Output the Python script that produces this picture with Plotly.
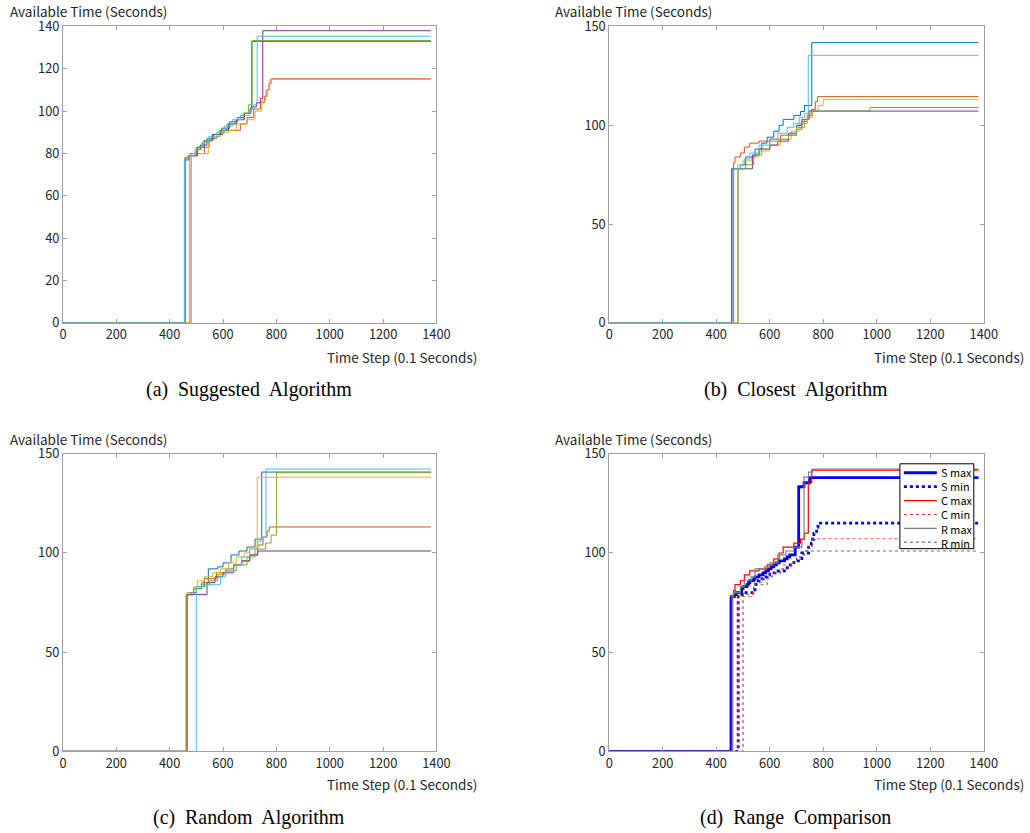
import numpy as np
import plotly.graph_objects as go

# figure canvas (page pixels); the harness maps page -> picture with a small
# scale/offset, compensated below so that targets are given in picture pixels
W, H = 1046, 843
SX, OX = 0.984, 2.0
SY, OY = 0.979, 9.5
END_T = 1380

# ---------------- data: step series (x where step starts, value after step) ----
# (a) Suggested Algorithm
A_BLUE_X = [0, 456, 472, 500, 515, 540, 565, 595, 625, 655, 680, 700, 708]
A_BLUE_Y = [0, 77, 79, 82, 84, 87, 89, 92, 95, 97, 99, 101, 133.0]
A_ORANGE_X = [0, 476, 500, 530, 548, 575, 600, 665, 690, 715, 740, 755, 765, 772, 780]
A_ORANGE_Y = [0, 79, 80, 83, 87, 89, 91, 94, 97, 101, 104, 107, 110, 113, 115.3]
A_YELLOW_X = [0, 482, 545, 560, 590, 620, 650, 690, 720, 745, 760, 775]
A_YELLOW_Y = [0, 80, 86, 88, 90, 91, 94, 96, 100, 105, 110, 115.0]
A_PURPLE_X = [0, 458, 470, 505, 530, 560, 590, 620, 650, 680, 705, 725, 740, 749]
A_PURPLE_Y = [0, 78, 79, 83, 86, 89, 91, 94, 96, 99, 102, 104, 106, 138.0]
A_GREEN_X = [0, 457, 475, 500, 525, 555, 585, 615, 645, 675, 695, 709]
A_GREEN_Y = [0, 78, 80, 83, 86, 88, 91, 94, 96, 99, 103, 133.4]
A_LBLUE_X = [0, 455, 468, 495, 520, 545, 575, 605, 635, 665, 700, 715, 728]
A_LBLUE_Y = [0, 77, 79, 82, 85, 88, 90, 93, 96, 98, 101, 103, 135.4]

# (b) Closest Algorithm
B_BLUE_X = [0, 458, 490, 510, 545, 570, 590, 615, 635, 650, 690, 715, 730, 757]
B_BLUE_Y = [0, 78, 80, 84, 88, 91, 94, 97, 100, 103, 105, 107, 110, 141.8]
B_ORANGE_X = [0, 465, 470, 490, 505, 525, 560, 600, 640, 700, 720, 740, 755, 770, 779]
B_ORANGE_Y = [0, 81, 84, 86, 89, 91, 92, 93, 95, 98, 102, 105, 108, 112, 114.5]
B_YELLOW_X = [0, 480, 500, 530, 560, 600, 640, 680, 710, 740, 760, 780, 800]
B_YELLOW_Y = [0, 80, 82, 84, 87, 90, 93, 97, 101, 104, 107, 110, 113.0]
B_PURPLE_X = [0, 458, 535, 560, 600, 630, 670, 700, 720, 747]
B_PURPLE_Y = [0, 78, 85, 88, 90, 92, 96, 100, 103, 107.2]
B_GREEN_X = [0, 482, 510, 540, 570, 600, 640, 670, 700, 730, 747, 975]
B_GREEN_Y = [0, 78, 80, 85, 88, 92, 93, 95, 99, 103, 107.2, 109.0]
B_LBLUE_X = [0, 462, 490, 505, 525, 560, 600, 630, 665, 690, 710, 730, 744]
B_LBLUE_Y = [0, 78, 80, 83, 86, 90, 93, 96, 99, 101, 104, 106, 135.4]

# (c) Random Algorithm
C_BLUE_X = [0, 462, 480, 500, 530, 545, 580, 600, 630, 660, 690, 720, 745]
C_BLUE_Y = [0, 79, 80, 83, 87, 92, 93, 95, 99, 101, 103, 107, 140.8]
C_ORANGE_X = [0, 463, 490, 520, 545, 575, 610, 640, 670, 700, 730, 750, 765, 773]
C_ORANGE_Y = [0, 79, 82, 85, 87, 90, 92, 94, 96, 99, 104, 108, 111, 113.1]
C_YELLOW_X = [0, 465, 490, 505, 530, 560, 590, 620, 650, 680, 700, 728]
C_YELLOW_Y = [0, 79, 83, 86, 88, 90, 92, 95, 98, 100, 103, 138.2]
C_PURPLE_X = [0, 466, 540, 570, 600, 640, 670, 700, 730]
C_PURPLE_Y = [0, 79, 85, 88, 90, 94, 96, 99, 101.0]
C_GREEN_X = [0, 466, 490, 520, 550, 580, 610, 650, 690, 720, 760, 780, 801]
C_GREEN_Y = [0, 80, 82, 84, 86, 89, 91, 94, 98, 102, 105, 109, 140.5]
C_LBLUE_X = [0, 500, 540, 590, 610, 640, 670, 700, 730, 745, 761]
C_LBLUE_Y = [0, 83, 84, 88, 91, 94, 98, 102, 106, 108, 142.3]

CAPTIONS = ["(a)\u00a0 Suggested\u00a0 Algorithm", "(b)\u00a0 Closest\u00a0 Algorithm",
            "(c)\u00a0 Random\u00a0 Algorithm", "(d)\u00a0 Range\u00a0 Comparison"]
Y_TITLE = "Available Time (Seconds)"
X_TITLE = "Time Step (0.1 Seconds)"
LEGEND_NAMES = ["S max", "S min", "C max", "C min", "R max", "R min"]

MATLAB = ["#0072BD", "#D95319", "#EDB120", "#7E2F8E", "#77AC30", "#4DBEEE"]

PANEL_A = [(A_BLUE_X, A_BLUE_Y), (A_ORANGE_X, A_ORANGE_Y), (A_YELLOW_X, A_YELLOW_Y),
           (A_PURPLE_X, A_PURPLE_Y), (A_GREEN_X, A_GREEN_Y), (A_LBLUE_X, A_LBLUE_Y)]
PANEL_B = [(B_BLUE_X, B_BLUE_Y), (B_ORANGE_X, B_ORANGE_Y), (B_YELLOW_X, B_YELLOW_Y),
           (B_PURPLE_X, B_PURPLE_Y), (B_GREEN_X, B_GREEN_Y), (B_LBLUE_X, B_LBLUE_Y)]
PANEL_C = [(C_BLUE_X, C_BLUE_Y), (C_ORANGE_X, C_ORANGE_Y), (C_YELLOW_X, C_YELLOW_Y),
           (C_PURPLE_X, C_PURPLE_Y), (C_GREEN_X, C_GREEN_Y), (C_LBLUE_X, C_LBLUE_Y)]

T = np.arange(0, END_T + 1)


def on_grid(xs, ys):
    xs = np.asarray(xs); ys = np.asarray(ys, dtype=float)
    idx = np.searchsorted(xs, T, side="right") - 1
    return ys[idx]


def envelope(panel):
    m = np.vstack([on_grid(x, y) for x, y in panel])
    return m.max(axis=0), m.min(axis=0)


# ---------------- layout geometry (picture pixels -> paper fraction) ----------
def px_x(p):
    return ((p - OX) / SX) / W


def px_y(p):
    return 1 - ((p - OY) / SY) / H


def fs(s):
    return s / SX


panels = {
    1: dict(x0=61, x1=435, y0=25, y1=322, ymax=140, dy=20),
    2: dict(x0=608, x1=983, y0=25, y1=322, ymax=150, dy=50),
    3: dict(x0=61, x1=435, y0=453, y1=751, ymax=150, dy=50),
    4: dict(x0=608, x1=983, y0=453, y1=751, ymax=150, dy=50),
}

fig = go.Figure()

TICKFONT = dict(family="Noto Sans CJK KR, Noto Sans, sans-serif", size=fs(12.6), color="#262626")

for k, p in panels.items():
    sfx = "" if k == 1 else str(k)
    fig.layout["xaxis" + sfx] = dict(
        domain=[px_x(p["x0"]), px_x(p["x1"])], anchor="y" + sfx,
        range=[0, 1400], tickvals=list(range(0, 1401, 200)),
        showline=True, linecolor="#a0a0a0", linewidth=1, mirror="ticks",
        ticks="inside", ticklen=4, tickcolor="#a0a0a0",
        showgrid=False, zeroline=False, tickfont=TICKFONT, fixedrange=True)
    fig.layout["yaxis" + sfx] = dict(
        domain=[px_y(p["y1"]), px_y(p["y0"])], anchor="x" + sfx,
        range=[0, p["ymax"]], tickvals=list(range(0, p["ymax"] + 1, p["dy"])),
        showline=True, linecolor="#a0a0a0", linewidth=1, mirror="ticks",
        ticks="inside", ticklen=4, tickcolor="#a0a0a0",
        showgrid=False, zeroline=False, tickfont=TICKFONT, fixedrange=True)


def add_panel(panel, k):
    sfx = "" if k == 1 else str(k)
    for (xs, ys), c in zip(panel, MATLAB):
        fig.add_trace(go.Scatter(
            x=list(xs) + [END_T], y=list(ys) + [ys[-1]], mode="lines",
            line=dict(color=c, width=1, shape="hv"), showlegend=False,
            xaxis="x" + sfx, yaxis="y" + sfx, hoverinfo="skip"))


add_panel(PANEL_A, 1)
add_panel(PANEL_B, 2)
add_panel(PANEL_C, 3)

s_max, s_min = envelope(PANEL_A)
c_max, c_min = envelope(PANEL_B)
r_max, r_min = envelope(PANEL_C)

styles = [
    (s_max, dict(color="#0000FF", width=2.8, dash="solid")),
    (s_min, dict(color="#0000FF", width=2.8, dash="dot")),
    (c_max, dict(color="#FF0000", width=1.2, dash="solid")),
    (c_min, dict(color="#FF2020", width=1, dash="dot")),
    (r_max, dict(color="#808080", width=1.2, dash="solid")),
    (r_min, dict(color="#505050", width=1, dash="dot")),
]
for name, (vals, ln) in zip(LEGEND_NAMES, styles):
    fig.add_trace(go.Scatter(x=T, y=vals, mode="lines", name=name,
                             line=dict(shape="hv", **ln), showlegend=False,
                             xaxis="x4", yaxis="y4", hoverinfo="skip"))

# ---- legend box for (d), drawn as shapes + one multi-line text ----
ROW = 13.9
shapes = [dict(type="rect", xref="paper", yref="paper",
               x0=px_x(899), x1=px_x(973), y0=px_y(548), y1=px_y(463),
               fillcolor="white", line=dict(color="#000000", width=1), layer="above")]
for i, (_, ln) in enumerate(styles):
    yy = 472 + ROW * i
    shapes.append(dict(type="line", xref="paper", yref="paper",
                       x0=px_x(903), x1=px_x(936), y0=px_y(yy), y1=px_y(yy),
                       line=dict(color=ln["color"], width=ln["width"], dash=ln["dash"]),
                       layer="above"))
ann = [dict(text="<br>".join(LEGEND_NAMES), x=px_x(939), y=px_y(472 + ROW * 2.5),
            xref="paper", yref="paper", xanchor="left", yanchor="middle", align="left",
            showarrow=False, borderpad=0,
            font=dict(family="Noto Sans CJK KR, Noto Sans, sans-serif",
                      size=fs(ROW / 1.3), color="#000000"))]

LABFONT = dict(family="Noto Sans CJK KR, Noto Sans, sans-serif", size=fs(13.3), color="#262626")
CAPFONT = dict(family="Liberation Serif, Times New Roman, serif", size=fs(19.6), color="#000000")
ytitle_pos = [(7, 10), (553, 10), (7, 438), (553, 438)]
xtitle_pos = [(478, 356), (1025, 356), (478, 784), (1025, 784)]
cap_pos = [(247, 389), (795, 389), (247, 817), (794, 817)]
for i in range(4):
    ann.append(dict(text=Y_TITLE, x=px_x(ytitle_pos[i][0]), y=px_y(ytitle_pos[i][1]),
                    xref="paper", yref="paper", xanchor="left", yanchor="middle",
                    showarrow=False, borderpad=0, font=LABFONT))
    ann.append(dict(text=X_TITLE, x=px_x(xtitle_pos[i][0]), y=px_y(xtitle_pos[i][1]),
                    xref="paper", yref="paper", xanchor="right", yanchor="middle",
                    showarrow=False, font=LABFONT))
    ann.append(dict(text=CAPTIONS[i], x=px_x(cap_pos[i][0]), y=px_y(cap_pos[i][1]),
                    xref="paper", yref="paper", xanchor="center", yanchor="middle",
                    showarrow=False, font=CAPFONT))

fig.update_layout(
    width=W, height=H, margin=dict(l=0, r=0, t=0, b=0),
    paper_bgcolor="white", plot_bgcolor="white",
    annotations=ann, shapes=shapes, showlegend=False,
)

fig.write_html(
    "out.html",
    config={"displayModeBar": False},
    post_script=(
        "document.documentElement.style.overflow='hidden';"
        "document.body.style.margin='0px';"
        "document.body.style.overflow='hidden';"
        "var d=document.getElementsByClassName('plotly-graph-div')[0];"
        "d.style.position='fixed';d.style.left='0px';d.style.top='0px';"
    ),
)
